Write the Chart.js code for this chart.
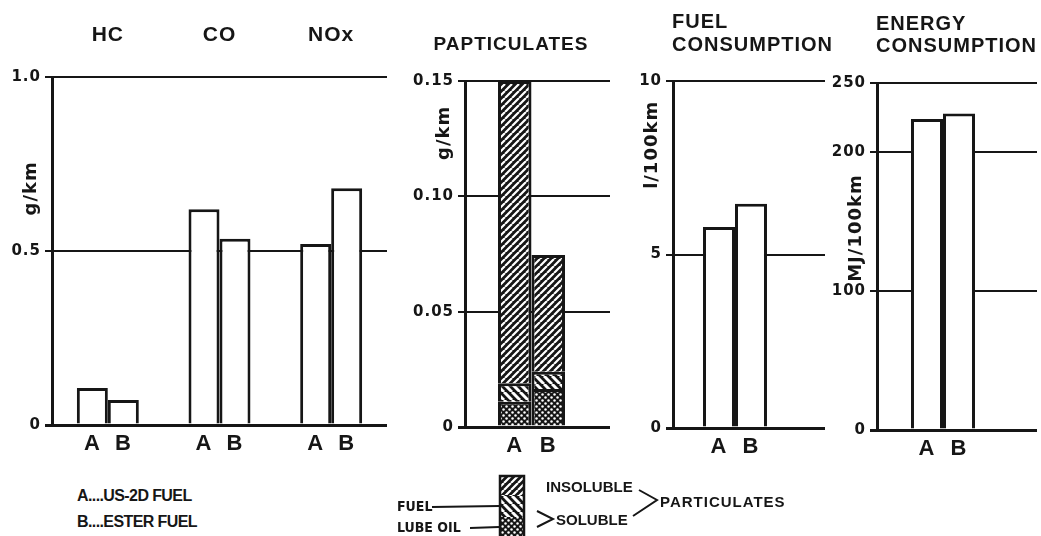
<!DOCTYPE html>
<html>
<head>
<meta charset="utf-8">
<title>US-2D fuel vs ester fuel</title>
<script src="https://cdn.jsdelivr.net/npm/chart.js@4.4.1/dist/chart.umd.min.js"></script>
<style>
  html, body { margin: 0; padding: 0; background: #fff; }
  body { position: relative; width: 1041px; height: 536px; overflow: hidden; color: #161616; }
  canvas { position: absolute; top: 0; }
  .key { position: absolute; font-weight: bold; white-space: nowrap; transform: translateY(-50%); line-height: 1; }
  .fuel-key { font: bold 16px "Liberation Sans", Arial, sans-serif; letter-spacing: -0.6px; }
  .part-key { font: bold 15px "Liberation Sans", Arial, sans-serif; }
  .small-key { font: bold 14px "Liberation Sans Narrow", "DejaVu Sans Condensed", sans-serif; }
</style>
</head>
<body>
<canvas id="emissions" width="400" height="470" style="left:0"></canvas>
<canvas id="particulates" width="220" height="470" style="left:400px"></canvas>
<canvas id="fuelUse" width="222" height="470" style="left:620px"></canvas>
<canvas id="energyUse" width="211" height="470" style="left:830px"></canvas>
<canvas id="keyMarks" width="320" height="71" style="left:390px; top:465px"></canvas>

<span class="key fuel-key" style="left:77px; top:496px">A....US-2D FUEL</span>
<span class="key fuel-key" style="left:77px; top:522px">B....ESTER FUEL</span>
<span class="key small-key" style="left:397px; top:506px">FUEL</span>
<span class="key small-key" style="left:397px; top:527px">LUBE OIL</span>
<span class="key part-key" style="left:546px; top:486px">INSOLUBLE</span>
<span class="key part-key" style="left:556px; top:519px">SOLUBLE</span>
<span class="key part-key" style="left:660px; top:501px; letter-spacing:1px">PARTICULATES</span>

<script>
const INK = '#161616';

// fuels: A = US-2D, B = ester
const fuels = ['A', 'B'];

// emissions, g/km
const pollutants = ['HC', 'CO', 'NOx'];
const emissionsA = [0.106, 0.62, 0.52];
const emissionsB = [0.072, 0.535, 0.68];
const emissionTicks = [0, 0.5, 1.0];
const emissionTickLabels = ['0', '0.5', '1.0'];

// particulates, g/km (A, B)
const particulateTitle = 'PAPTICULATES';
const lubeOilSoluble = [0.011, 0.0165];
const fuelSoluble = [0.008, 0.0075];
const insoluble = [0.131, 0.0506];
const particulateTicks = [0, 0.05, 0.10, 0.15];
const particulateTickLabels = ['0', '0.05', '0.10', '0.15'];

// fuel consumption, l/100km (A, B)
const fuelTitle = ['FUEL', 'CONSUMPTION'];
const fuelConsumption = [5.79, 6.46];
const fuelTicks = [0, 5, 10];
const fuelTickLabels = ['0', '5', '10'];

// energy consumption, MJ/100km (A, B)
const energyTitle = ['ENERGY', 'CONSUMPTION'];
const energyConsumption = [224, 228];
const energyTicks = [0, 100, 200, 250];
const energyTickLabels = ['0', '100', '200', '250'];

// hatch fills for the particulate bars
function stripes(size, width, rising) {
  const c = document.createElement('canvas');
  c.width = c.height = size;
  const g = c.getContext('2d');
  g.fillStyle = INK;
  g.fillRect(0, 0, size, size);
  g.strokeStyle = '#fff';
  g.lineWidth = width;
  g.beginPath();
  for (const k of [-size, 0, size]) {
    if (rising) { g.moveTo(k, size); g.lineTo(k + size, 0); }
    else { g.moveTo(k, 0); g.lineTo(k + size, size); }
  }
  g.stroke();
  return g.createPattern(c, 'repeat');
}

function dots() {
  const c = document.createElement('canvas');
  c.width = c.height = 6;
  const g = c.getContext('2d');
  g.fillStyle = INK;
  g.fillRect(0, 0, 6, 6);
  g.fillStyle = '#fff';
  [[1.5, 1.5], [4.5, 4.5]].forEach(([x, y]) => {
    g.beginPath(); g.arc(x, y, 1.25, 0, Math.PI * 2); g.fill();
  });
  return g.createPattern(c, 'repeat');
}

const insolubleFill = stripes(7, 2.2, true);
const fuelFill = stripes(8, 3, false);
const lubeFill = dots();

// --- small plugins ---
const spacing = {
  id: 'spacing',
  beforeDraw(chart) { chart.ctx.letterSpacing = '1px'; }
};

// A / B under each bar
const fuelLetters = {
  id: 'fuelLetters',
  afterDatasetsDraw(chart) {
    const ctx = chart.ctx;
    const done = new Set();
    ctx.save();
    ctx.font = 'bold 22px "Liberation Sans", Arial, sans-serif';
    ctx.fillStyle = INK;
    ctx.textAlign = 'center';
    ctx.textBaseline = 'middle';
    chart.data.datasets.forEach((ds, i) => {
      chart.getDatasetMeta(i).data.forEach(bar => {
        const key = ds.fuel + Math.round(bar.x);
        if (done.has(key)) return;
        done.add(key);
        ctx.fillText(ds.fuel, bar.x, chart.chartArea.bottom + 19);
      });
    });
    ctx.restore();
  }
};

// rotated unit next to the value axis
const unitLabel = {
  id: 'unitLabel',
  afterDraw(chart, args, opts) {
    const ctx = chart.ctx;
    ctx.save();
    ctx.translate(chart.chartArea.left - 21, chart.scales.y.getPixelForValue(opts.at));
    ctx.rotate(-Math.PI / 2);
    ctx.font = 'bold 18px "DejaVu Sans", sans-serif';
    ctx.fillStyle = INK;
    ctx.textAlign = 'center';
    ctx.textBaseline = 'middle';
    ctx.fillText(opts.text, 0, 0);
    ctx.restore();
  }
};

// two-line heading, left edge on the value axis
const heading = {
  id: 'heading',
  afterDraw(chart, args, opts) {
    const ctx = chart.ctx;
    ctx.save();
    ctx.font = 'bold 20px "Liberation Sans", Arial, sans-serif';
    ctx.fillStyle = INK;
    ctx.textAlign = 'left';
    ctx.textBaseline = 'middle';
    opts.lines.forEach((line, i) => {
      ctx.fillText(line, chart.chartArea.left - 1, opts.top + i * opts.lineHeight);
    });
    ctx.restore();
  }
};

function valueAxis(ticks, labels, width) {
  return {
    min: ticks[0],
    max: ticks[ticks.length - 1],
    afterBuildTicks: scale => { scale.ticks = ticks.map(value => ({ value })); },
    afterFit: scale => { scale.width = width; },
    ticks: {
      callback: (value, i) => labels[i],
      padding: 4,
      color: INK,
      font: { family: '"DejaVu Sans", sans-serif', size: 15, weight: 'bold' }
    },
    grid: {
      color: INK,
      lineWidth: ctx => (ctx.tick && ctx.tick.value === 0 ? 3 : 2),
      tickLength: 7
    },
    border: { color: INK, width: 3 }
  };
}

// gridlines that run on past the bars, to the right of the plot
function gridRunOn(ticks, tickLength, width) {
  return {
    position: 'right',
    min: ticks[0],
    max: ticks[ticks.length - 1],
    afterBuildTicks: scale => { scale.ticks = ticks.map(value => ({ value })); },
    afterFit: scale => { scale.width = width; },
    ticks: { display: false },
    grid: {
      drawOnChartArea: false,
      tickLength: tickLength,
      color: INK,
      lineWidth: ctx => (ctx.tick && ctx.tick.value === 0 ? 3 : 2)
    },
    border: { display: false }
  };
}

function bar(fuel, data, fill, stack) {
  return {
    label: fuel,
    fuel: fuel,
    stack: stack,
    data: data,
    backgroundColor: fill,
    borderColor: INK,
    borderWidth: 3
  };
}

const quiet = { legend: { display: false }, tooltip: { enabled: false } };

// HC, CO, NOx
new Chart(document.getElementById('emissions'), {
  type: 'bar',
  data: {
    labels: pollutants,
    datasets: [
      bar(fuels[0], emissionsA, '#fff'),
      bar(fuels[1], emissionsB, '#fff')
    ]
  },
  options: {
    responsive: false,
    animation: false,
    events: [],
    layout: { padding: { left: 0, right: 13, top: 0, bottom: 45 } },
    datasets: { bar: { categoryPercentage: 0.555, barPercentage: 1 } },
    scales: {
      x: { display: false, offset: true },
      x2: {
        type: 'category',
        position: 'top',
        labels: pollutants,
        offset: true,
        afterFit: scale => { scale.height = 77; },
        grid: { display: false },
        border: { display: false },
        ticks: {
          padding: 21,
          autoSkip: false,
          maxRotation: 0,
          color: INK,
          font: { family: '"Liberation Sans", Arial, sans-serif', size: 21, weight: 'bold' }
        }
      },
      y: valueAxis(emissionTicks, emissionTickLabels, 52)
    },
    plugins: { ...quiet, unitLabel: { text: 'g/km', at: 0.68 } }
  },
  plugins: [spacing, fuelLetters, unitLabel]
});

// particulates, stacked per fuel
const particulateSets = [];
fuels.forEach((fuel, i) => {
  particulateSets.push(bar(fuel, [lubeOilSoluble[i]], lubeFill, fuel));
  particulateSets.push(bar(fuel, [fuelSoluble[i]], fuelFill, fuel));
  particulateSets.push(bar(fuel, [insoluble[i]], insolubleFill, fuel));
});

new Chart(document.getElementById('particulates'), {
  type: 'bar',
  data: { labels: [particulateTitle], datasets: particulateSets },
  options: {
    responsive: false,
    animation: false,
    events: [],
    layout: { padding: { left: 2, right: 0, top: 0, bottom: 43 } },
    datasets: { bar: { categoryPercentage: 0.504, barPercentage: 1 } },
    scales: {
      x: { display: false, offset: true },
      y: { ...valueAxis(particulateTicks, particulateTickLabels, 63), stacked: true },
      y2: gridRunOn(particulateTicks, 12, 22)
    },
    plugins: {
      ...quiet,
      title: {
        display: true,
        text: particulateTitle,
        color: INK,
        font: { family: '"Liberation Sans", Arial, sans-serif', size: 19, weight: 'bold', lineHeight: 1.2 },
        padding: { top: 33.6, bottom: 24.6 }
      },
      unitLabel: { text: 'g/km', at: 0.1275 }
    }
  },
  plugins: [spacing, fuelLetters, unitLabel]
});

// fuel consumption
new Chart(document.getElementById('fuelUse'), {
  type: 'bar',
  data: {
    labels: [fuelTitle.join(' ')],
    datasets: fuels.map((fuel, i) => bar(fuel, [fuelConsumption[i]], '#fff'))
  },
  options: {
    responsive: false,
    animation: false,
    events: [],
    layout: { padding: { left: 0, right: 0, top: 81, bottom: 42 } },
    datasets: { bar: { categoryPercentage: 0.516, barPercentage: 1 } },
    scales: {
      x: { display: false, offset: true },
      y: valueAxis(fuelTicks, fuelTickLabels, 53),
      y2: gridRunOn(fuelTicks, 28, 45)
    },
    plugins: {
      ...quiet,
      heading: { lines: fuelTitle, top: 22, lineHeight: 23 },
      unitLabel: { text: 'l/100km', at: 8.16 }
    }
  },
  plugins: [spacing, fuelLetters, unitLabel, heading]
});

// energy consumption
new Chart(document.getElementById('energyUse'), {
  type: 'bar',
  data: {
    labels: [energyTitle.join(' ')],
    datasets: fuels.map((fuel, i) => bar(fuel, [energyConsumption[i]], '#fff'))
  },
  options: {
    responsive: false,
    animation: false,
    events: [],
    layout: { padding: { left: 0, right: 0, top: 83, bottom: 40 } },
    datasets: { bar: { categoryPercentage: 0.485, barPercentage: 1 } },
    scales: {
      x: { display: false, offset: true },
      y: valueAxis(energyTicks, energyTickLabels, 47),
      y2: gridRunOn(energyTicks, 28, 32)
    },
    plugins: {
      ...quiet,
      heading: { lines: energyTitle, top: 24.5, lineHeight: 22 },
      unitLabel: { text: 'MJ/100km', at: 145.5 }
    }
  },
  plugins: [spacing, fuelLetters, unitLabel, heading]
});

// particulate key: swatch, leader lines and brackets (page coords minus 390,465)
(function drawKey() {
  const g = document.getElementById('keyMarks').getContext('2d');
  g.translate(-390, -465);
  const swatch = [[insolubleFill, 475, 20], [fuelFill, 495, 22], [lubeFill, 517, 19]];
  swatch.forEach(([fill, y, h]) => { g.fillStyle = fill; g.fillRect(499, y, 26, h); });
  g.strokeStyle = INK;
  g.lineWidth = 2.5;
  g.strokeRect(500, 476, 24, 62);
  g.lineWidth = 2;
  g.beginPath();
  g.moveTo(432, 507); g.lineTo(499, 506);          // FUEL
  g.moveTo(470, 528); g.lineTo(499, 527);          // LUBE OIL
  g.moveTo(537, 511); g.lineTo(553, 519); g.lineTo(537, 527);   // > SOLUBLE
  g.moveTo(639, 490); g.lineTo(657, 500); g.lineTo(633, 516);   // > PARTICULATES
  g.stroke();
})();
</script>
</body>
</html>
